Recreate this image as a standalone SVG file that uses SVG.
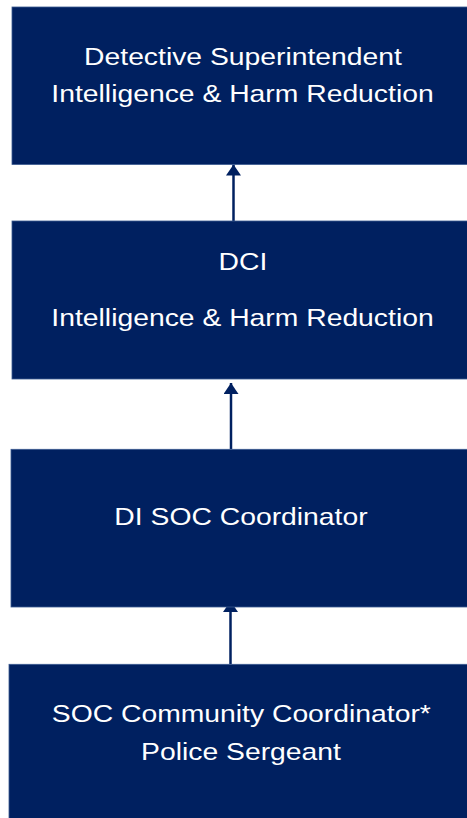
<svg xmlns="http://www.w3.org/2000/svg" width="467" height="818" viewBox="0 0 467 818">
<style>
.box{fill:#002060;stroke:#3b5a91;stroke-width:0.8}
.lbl{fill:#ffffff;font-family:"Liberation Sans",Arial,sans-serif;font-size:24px;text-anchor:middle}
.conn{stroke:#002060;stroke-width:2.5;fill:none}
</style>
<defs>
<marker id="ah" viewBox="0 0 11 15" refX="11" refY="7.5" markerWidth="11" markerHeight="15" markerUnits="userSpaceOnUse" orient="auto">
<path d="M0,0 L11,7.5 L0,15 z" fill="#002060"/>
</marker>
</defs>
<rect width="467" height="818" fill="#ffffff"/>
<g id="connectors">
<line class="conn" x1="233.5" y1="221" x2="233.5" y2="164.5" marker-end="url(#ah)"/>
<line class="conn" x1="231" y1="449" x2="231" y2="383" marker-end="url(#ah)"/>
<line class="conn" x1="230.5" y1="664" x2="230.5" y2="601" marker-end="url(#ah)"/>
</g>
<g id="node-ds">
<rect class="box" x="12" y="7" width="460" height="157.5"/>
<text class="lbl" transform="translate(243 65) scale(1.18 1)">Detective Superintendent</text>
<text class="lbl" transform="translate(242.5 102) scale(1.18 1)">Intelligence &amp; Harm Reduction</text>
</g>
<g id="node-dci">
<rect class="box" x="12" y="221" width="460" height="158"/>
<text class="lbl" transform="translate(243 270) scale(1.18 1)">DCI</text>
<text class="lbl" transform="translate(242.5 326) scale(1.18 1)">Intelligence &amp; Harm Reduction</text>
</g>
<g id="node-di">
<rect class="box" x="11" y="449.3" width="460" height="157.7"/>
<text class="lbl" transform="translate(241 525) scale(1.18 1)">DI SOC Coordinator</text>
</g>
<g id="node-soc">
<rect class="box" x="9" y="664.3" width="462" height="160"/>
<text class="lbl" transform="translate(241.3 722) scale(1.18 1)">SOC Community Coordinator*</text>
<text class="lbl" transform="translate(241 760) scale(1.18 1)">Police Sergeant</text>
</g>
</svg>
